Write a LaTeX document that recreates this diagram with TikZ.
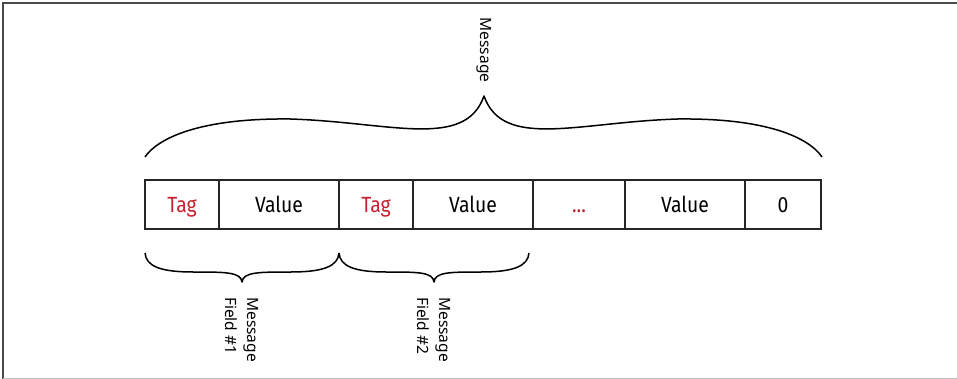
\documentclass[tikz,border=0pt]{standalone}
\usepackage{fontspec}
\setmainfont{Fira Sans}[FakeStretch=0.88]
\newfontfamily\labelfont{Noto Sans}
\definecolor{tagred}{HTML}{C8202F}
\definecolor{framegray}{HTML}{4A4A4A}
\begin{document}
\begin{tikzpicture}[x=1pt,y=-1pt,
  cell/.style={draw=black!85, line width=1.2pt, minimum height=49pt,
    inner sep=0pt, outer sep=0pt, anchor=west,
    font=\fontsize{22}{26}\selectfont, text height=15.2pt, text depth=0pt},
  tag/.style={cell, minimum width=74pt, text=tagred},
  val/.style={cell, minimum width=120pt},
  brace/.style={draw=black, line width=1.5pt, line join=round},
  label/.style={font=\labelfont\fontsize{15.5}{22}\selectfont, rotate=-90,
    inner sep=0pt, align=left},
  frame/.style={draw=framegray, line width=1.2pt}]
\useasboundingbox (0,0) rectangle (957,379);

% outer frame (top, left, bottom)
\draw[frame] (957,3) -- (3,3) -- (3,379);
\draw[draw=black!25, line width=1pt] (3,378) -- (957,378);

% the encoded message as a row of cells
\node[tag] (tag1) at (145,204.5) {Tag};
\node[val] (val1) at (tag1.east) {Value};
\node[tag] (tag2) at (val1.east) {Tag};
\node[val] (val2) at (tag2.east) {Value};
\node[cell, minimum width=92pt, text=tagred] (dots) at (val2.east) {...};
\node[val] (valn) at (dots.east) {Value};
\node[cell, minimum width=76pt] (zero) at (valn.east) {0};

% brace over the whole message
\coordinate (mL) at (145,157);
\coordinate (mT) at (484,96);
\coordinate (mR) at (822,157);
\draw[brace] (mL) .. controls (158,138) and (200,118) .. (290,119)
  .. controls (390,122) and (465,150) .. (mT)
  .. controls (503,150) and (578,122) .. (678,119)
  .. controls (768,118) and (809,138) .. (mR);
\node[label, anchor=center] (msg) at (484,50) {Message};

% braces under the first two fields
\coordinate (f1L) at (145,253);
\coordinate (f1T) at (242,282);
\coordinate (f1R) at (339,253);
\draw[brace] (f1L) .. controls (146,266) and (160,272) .. (193,272)
  .. controls (225,272) and (241,272) .. (f1T)
  .. controls (243,272) and (259,272) .. (291,272)
  .. controls (324,272) and (338,266) .. (f1R);
\coordinate (f2T) at (434,282);
\coordinate (f2R) at (529,253);
\draw[brace] (f1R) .. controls (340,266) and (354,272) .. (386,272)
  .. controls (418,272) and (433,272) .. (f2T)
  .. controls (435,272) and (450,272) .. (481,272)
  .. controls (514,272) and (528,266) .. (f2R);

\node[label, anchor=west] (field1) at (242,297) {Message\\Field \#1};
\node[label, anchor=west] (field2) at (434,297) {Message\\Field \#2};
\end{tikzpicture}
\end{document}
